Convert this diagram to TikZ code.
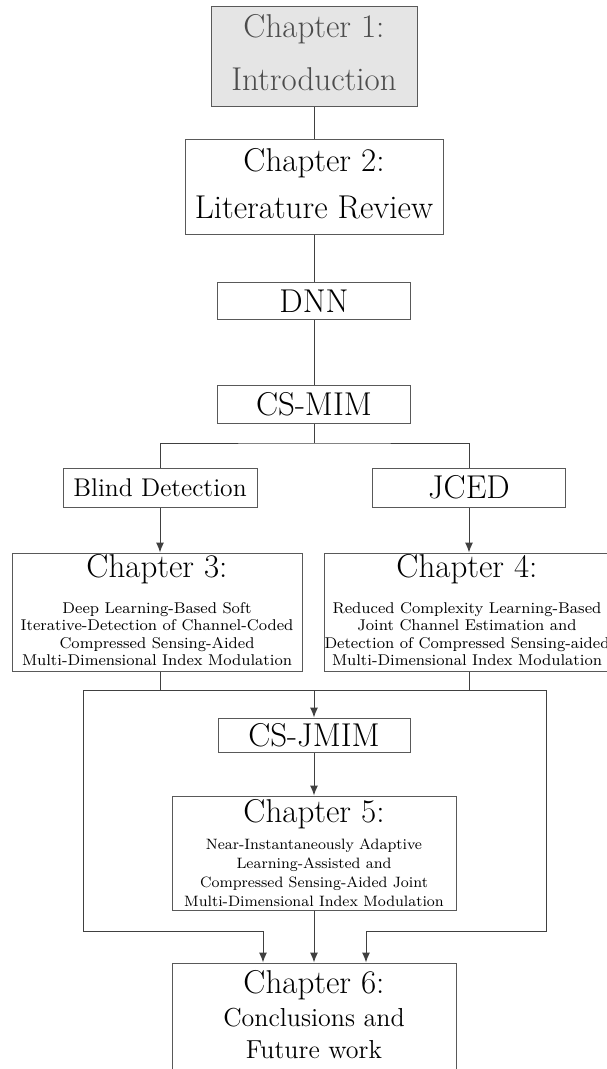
\documentclass[tikz,border=0pt]{standalone}
\usepackage{tikz}
\usetikzlibrary{arrows.meta}

\newcommand{\titlefont}{\fontsize{16.5}{19}\selectfont}

\begin{document}
\begin{tikzpicture}[x=0.5pt, y=-0.5pt, line width=0.5pt,
		box/.style={draw=black!65, align=center, inner sep=0pt, font=\fontsize{16.5}{24}\selectfont},
		link/.style={draw=black!75},
		arr/.style={link, -{Latex[length=5pt,width=4pt]}}]
	\useasboundingbox (0,0) rectangle (606,1069);
	% chapters and topics
	\node [box, fill=black!10, text=black!70, minimum width=103pt, minimum height=50pt, text depth=4.6pt, font=\fontsize{16.5}{26.8}\selectfont] (intro) at (314,57) {Chapter 1:\\Introduction};
	\node [box, minimum width=129pt, minimum height=47.5pt, text depth=4pt, font=\fontsize{16.5}{23.5}\selectfont] (review) at (314,187.5) {Chapter 2:\\Literature Review};
	\node [box, minimum width=96.5pt, minimum height=18.5pt] (dnn) at (314,301.5) {DNN};
	\node [box, minimum width=96.5pt, minimum height=19pt] (csmim) at (314,404.5) {CS-MIM};
	\node [box, minimum width=97pt, minimum height=19.5pt, font=\fontsize{12.8}{15}\selectfont] (blind) at (160,487.5) {Blind Detection};
	\node [box, minimum width=96.5pt, minimum height=19.5pt] (jced) at (469,487.5) {JCED};
	\node [box, minimum width=145pt, minimum height=59pt, text depth=2pt, font=\fontsize{7.8}{8.8}\selectfont] (chthree) at (157,612)
		{{\titlefont Chapter 3:}\\[9.2pt]Deep Learning-Based Soft\\Iterative-Detection of Channel-Coded\\Compressed Sensing-Aided\\Multi-Dimensional Index Modulation};
	\node [box, minimum width=141pt, minimum height=59pt, text depth=2pt, font=\fontsize{7.8}{8.8}\selectfont] (chfour) at (467,612)
		{{\titlefont Chapter 4:}\\[9.2pt]Reduced Complexity Learning-Based\\Joint Channel Estimation and\\Detection of Compressed Sensing-aided\\Multi-Dimensional Index Modulation};
	\node [box, minimum width=96pt, minimum height=17pt] (csjmim) at (314,735) {CS-JMIM};
	\node [box, minimum width=142pt, minimum height=57pt, font=\fontsize{7.5}{9.5}\selectfont] (chfive) at (314,853)
		{{\titlefont Chapter 5:}\\[3.8pt]Near-Instantaneously Adaptive\\Learning-Assisted and\\Compressed Sensing-Aided Joint\\Multi-Dimensional Index Modulation};
	\node [box, minimum width=142pt, minimum height=57pt, text depth=6pt, font=\fontsize{13}{15.65}\selectfont] (chsix) at (314,1020)
		{{\titlefont Chapter 6:}\\[1.2pt]Conclusions and\\Future work};
	% joints of the connectors
	\coordinate (fork) at (314,443);
	\coordinate (busL) at (83,690);
	\coordinate (busR) at (546,690);
	\coordinate (loopL) at (263,931);
	\coordinate (loopR) at (366,931);
	% connectors
	\draw [link] (intro) -- (review);
	\draw [link] (review) -- (dnn);
	\draw [link] (dnn) -- (csmim);
	\draw [link] (csmim) -- (fork);
	\draw [link] (blind.north) |- (fork) -| (jced.north);
	\draw [arr] (blind) -- (blind |- chthree.north);
	\draw [arr] (jced) -- (jced |- chfour.north);
	\draw [link] (blind |- chthree.south) -- (blind |- busL);
	\draw [link] (jced |- chfour.south) -- (jced |- busL);
	\draw [link] (busL) -- (busR);
	\draw [arr] (csjmim |- busL) -- (csjmim);
	\draw [arr] (csjmim) -- (chfive);
	\draw [arr] (chfive) -- (chsix);
	\draw [arr] (busL) |- (loopL) -- (loopL |- chsix.north);
	\draw [arr] (busR) |- (loopR) -- (loopR |- chsix.north);
\end{tikzpicture}
\end{document}
